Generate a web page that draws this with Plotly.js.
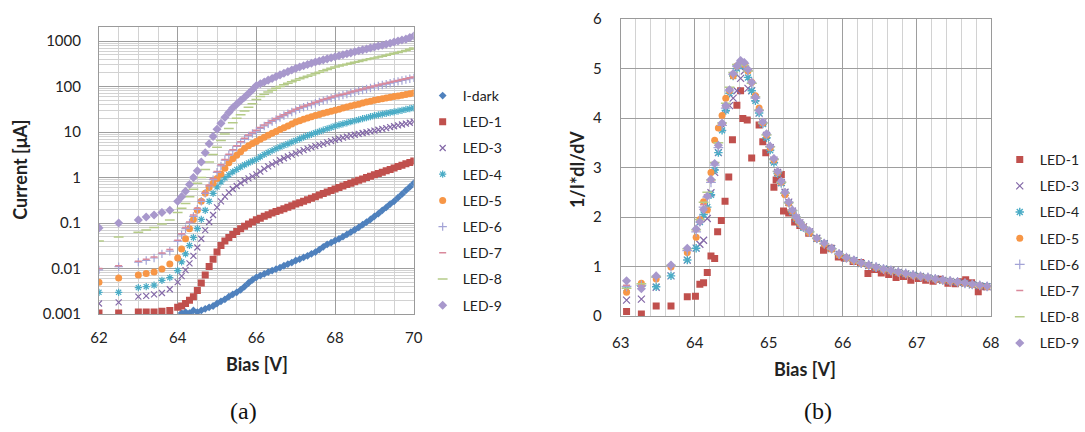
<!DOCTYPE html>
<html><head><meta charset="utf-8">
<script src="https://cdn.plot.ly/plotly-3.0.1.min.js"></script>
<style>body{margin:0;background:#fff}#c{width:1085px;height:432px}</style>
</head><body><div id="c"></div>
<script>
// ---------- (a) Current vs Bias ----------
const bias = [62,62.5,63,63.2,63.4,63.6,63.8,
64.0,64.1,64.2,64.3,64.4,64.5,64.6,64.7,64.8,64.9,
65.0,65.1,65.2,65.3,65.4,65.5,65.6,65.7,65.8,65.9,
66.0,66.1,66.2,66.3,66.4,66.5,66.6,66.7,66.8,66.9,
67.0,67.1,67.2,67.3,67.4,67.5,67.6,67.7,67.8,67.9,
68.0,68.1,68.2,68.3,68.4,68.5,68.6,68.7,68.8,68.9,
69.0,69.1,69.2,69.3,69.4,69.5,69.6,69.7,69.8,69.9,
70.0];
const iDark = [null,null,null,null,null,null,null,
null,0.00105,0.0011,0.00105,0.0012,0.0011,0.0012,0.0013,0.0014,0.0015,
0.0017,0.0019,0.0021,0.0024,0.0027,0.003,0.0034,0.004,0.0048,0.0056,
0.0064,0.007,0.0076,0.0083,0.009,0.0097,0.0105,0.0115,0.0125,0.0135,
0.015,0.016,0.0175,0.019,0.021,0.023,0.026,0.03,0.034,0.037,
0.041,0.045,0.05,0.056,0.063,0.071,0.08,0.092,0.105,0.12,
0.14,0.16,0.19,0.22,0.26,0.3,0.36,0.43,0.52,0.62,
0.75];
const led1 = [0.00105,0.00105,0.0011,0.0011,0.0011,0.00115,0.0012,
0.0014,0.0015,0.0017,0.002,0.0024,0.0033,0.0048,0.0072,0.011,0.016,
0.023,0.032,0.04,0.048,0.056,0.065,0.075,0.085,0.095,0.105,
0.118,0.128,0.14,0.152,0.165,0.178,0.19,0.205,0.222,0.24,
0.26,0.28,0.3,0.325,0.35,0.38,0.41,0.445,0.48,0.52,
0.56,0.6,0.65,0.7,0.75,0.81,0.87,0.93,1.0,1.07,
1.15,1.22,1.3,1.4,1.5,1.62,1.75,1.87,2.0,2.15,
2.3];
const led3 = [0.0017,0.0018,0.0024,0.0025,0.0027,0.0029,0.0035,
0.005,0.0068,0.0092,0.013,0.019,0.029,0.045,0.07,0.105,0.15,
0.22,0.3,0.38,0.47,0.56,0.65,0.75,0.86,0.96,1.06,
1.17,1.35,1.55,1.75,1.95,2.15,2.4,2.65,2.9,3.15,
3.4,3.7,4.0,4.3,4.6,4.9,5.2,5.5,5.9,6.3,
6.7,7.1,7.5,7.9,8.3,8.7,9.1,9.5,9.9,10.3,
10.7,11.2,11.7,12.2,12.8,13.4,14,14.6,15.3,16,
16.8];
const led4 = [0.003,0.003,0.0038,0.004,0.0043,0.0055,0.0063,
0.009,0.014,0.021,0.032,0.048,0.075,0.12,0.19,0.3,0.45,
0.62,0.8,0.98,1.15,1.33,1.5,1.7,1.9,2.1,2.3,
2.5,2.85,3.2,3.55,3.9,4.3,4.7,5.1,5.5,6.0,
6.5,7.1,7.7,8.3,8.9,9.6,10.3,11.0,11.8,12.6,
13.5,14.3,15.1,15.9,16.8,17.7,18.6,19.6,20.6,21.7,
22.8,23.8,24.8,25.8,26.8,27.8,28.8,30,31.3,32.6,
34];
const led5 = [0.005,0.0062,0.0072,0.0078,0.0084,0.0098,0.0125,
0.017,0.027,0.045,0.075,0.12,0.19,0.3,0.45,0.6,0.75,
0.95,1.2,1.6,2.1,2.6,3.1,3.7,4.4,5.0,5.6,
6.2,6.9,7.7,8.5,9.4,10.3,11.3,12.4,13.6,15,
16.5,17.7,19,20.3,21.6,23,24.4,25.8,27.2,28.6,
30,31.8,33.6,35.4,37.2,39,41,43.2,45.4,47.7,
50,52,54,56,58,60,62.2,64.5,67,69.5,
72];
const led6 = [0.0093,0.011,0.0138,0.015,0.017,0.021,0.024,
0.04,0.055,0.075,0.1,0.14,0.2,0.3,0.45,0.65,0.9,
1.3,1.8,2.4,3.1,3.9,4.8,5.8,7.0,8.2,9.3,
10.5,12,13.6,15.2,17,18.8,20.8,23,25.3,27.6,
30,32.5,35,37.5,40,43,46,49,52,55.5,
59,62,65,68,72,76,80,84,88.5,93,
98,103,108,113,118,124,130,136,142,148,
155];
const led7 = [0.01,0.0115,0.0145,0.016,0.018,0.022,0.026,
0.042,0.058,0.08,0.105,0.15,0.21,0.32,0.47,0.68,0.95,
1.35,1.9,2.5,3.25,4.1,5.0,6.1,7.3,8.6,9.8,
11,12.6,14.3,16,17.8,19.7,21.8,24,26.5,29,
31.5,34,36.7,39.4,42,45,48,51.5,54.5,58,
62,65,68,71.5,75.5,80,84,88,93,97.5,
103,108,113,118.5,124,130,136,142,148,155,
162];
const led8 = [0.04,0.049,0.063,0.07,0.08,0.095,0.117,
0.17,0.21,0.27,0.38,0.55,0.75,1.0,1.5,2.2,3.2,
4.6,6.5,9.0,12,16,20,24,29,35,42,
52,60,68,76,83,91,100,110,118,128,
138,148,158,168,180,193,207,222,238,252,
270,283,296,310,325,340,356,373,390,408,
425,445,465,487,510,535,560,590,620,660,
700];
const led9 = [0.078,0.1,0.117,0.135,0.15,0.17,0.19,
0.3,0.38,0.5,0.7,1.0,1.4,2.2,3.5,5.5,8.0,
11.5,15.5,21,27,34,41,49,58,70,85,
105,115,126,138,150,165,180,196,212,230,
250,268,287,305,325,345,365,385,405,428,
450,475,500,525,550,580,610,640,670,705,
740,775,810,850,890,950,1000,1050,1100,1190,
1290];
const yTickVals = [0.001,0.01,0.1,1,10,100,1000];
const yTickText = ["0.001","0.01","0.1","1","10","100","1000"];

// ---------- (b) 1/I*dI/dV vs Bias ----------
const biasB1 = [63.08,63.28,63.48,63.68,63.9,64.01,64.07,64.12,64.17,64.22,
64.27,64.31,64.36,64.41,64.46,64.51,64.57,64.62,64.65,64.71,
64.77,64.87,64.92,64.96,65.07,65.1,65.17,65.2,65.27,65.35,
65.42,65.54,65.74,65.84,65.94,66.02,66.14,66.24,66.34,66.43,
66.52,66.62,66.72,66.82,66.92,67.02,67.12,67.22,67.32,67.42,
67.52,67.58,67.66,67.74,67.83,67.93];
const dLed1 = [0.09,0.04,0.2,0.2,0.39,0.4,0.64,0.67,0.88,1.21,
1.16,1.7,1.93,2.32,2.81,3.56,4.26,4.55,3.99,3.96,
3.19,3.86,3.52,3.3,2.6,2.75,2.86,2.12,2.08,1.9,
1.83,1.67,1.33,1.37,1.19,1.17,1.1,1.08,0.86,0.94,
0.87,0.84,0.78,0.8,0.72,0.76,0.72,0.7,0.74,0.66,
0.65,0.69,0.73,0.67,0.49,0.59];
const biasB = [63.08,63.28,63.48,63.68,63.9,64.02,64.07,64.12,64.17,64.22,
64.27,64.32,64.37,64.42,64.47,64.52,64.57,64.62,64.67,64.72,
64.77,64.82,64.87,64.92,64.97,65.02,65.07,65.12,65.17,65.22,
65.27,65.32,65.37,65.42,65.47,65.55,65.65,65.75,65.85,65.95,
66.05,66.15,66.25,66.35,66.45,66.55,66.65,66.75,66.85,66.95,
67.05,67.15,67.25,67.35,67.45,67.55,67.65,67.75,67.85,67.95];
const dLed3 = [0.32,0.34,0.58,0.81,1.13,1.37,1.45,1.53,1.97,2.49,
2.9,3.3,3.8,4.2,4.25,4.4,4.55,4.8,4.95,4.6,
4.55,4.4,4.1,3.9,3.65,3.4,3.15,2.9,2.7,2.5,
2.3,2.12,1.98,1.88,1.8,1.7,1.57,1.46,1.36,1.25,
1.17,1.12,1.06,1.02,0.98,0.95,0.92,0.88,0.85,0.82,
0.8,0.77,0.75,0.72,0.7,0.68,0.66,0.63,0.61,0.59];
const dLed4 = [0.56,0.6,0.59,0.81,1.13,1.37,1.9,2.05,2.2,2.45,
2.95,3.3,3.75,4.15,4.5,4.85,5.0,5.1,5.05,4.82,
4.55,4.35,4.1,3.88,3.6,3.35,3.1,2.88,2.68,2.48,
2.28,2.1,1.97,1.87,1.78,1.69,1.56,1.46,1.36,1.24,
1.17,1.12,1.06,1.02,0.98,0.95,0.91,0.88,0.85,0.83,
0.8,0.77,0.75,0.72,0.7,0.68,0.66,0.63,0.61,0.6];
const dLed5 = [0.48,0.66,0.75,0.99,1.28,1.59,1.95,2.31,2.14,2.9,
3.55,3.8,4.05,4.4,4.55,4.85,5.05,5.1,5.08,4.95,
4.72,4.45,4.2,3.9,3.65,3.4,3.15,2.9,2.7,2.45,
2.28,2.12,1.98,1.88,1.8,1.68,1.56,1.45,1.35,1.23,
1.17,1.11,1.06,1.02,0.98,0.94,0.91,0.88,0.85,0.82,
0.8,0.77,0.74,0.72,0.7,0.68,0.66,0.63,0.61,0.59];
const dLed6 = [0.6,0.62,0.78,1.0,1.32,1.7,1.95,2.2,2.4,2.7,
3.05,3.4,3.85,4.2,4.55,4.88,5.05,5.12,5.1,4.95,
4.7,4.4,4.15,3.9,3.66,3.42,3.16,2.92,2.7,2.48,
2.3,2.13,2.0,1.89,1.8,1.7,1.57,1.46,1.36,1.25,
1.18,1.12,1.07,1.03,0.99,0.95,0.92,0.89,0.86,0.83,
0.8,0.78,0.75,0.73,0.71,0.69,0.66,0.64,0.62,0.6];
const dLed7 = [0.62,0.6,0.8,1.0,1.35,1.72,1.92,2.25,2.45,2.72,
3.1,3.45,3.88,4.22,4.6,4.9,5.08,5.14,5.1,4.96,
4.7,4.42,4.17,3.9,3.67,3.42,3.17,2.93,2.71,2.5,
2.3,2.14,2.0,1.9,1.8,1.71,1.57,1.47,1.37,1.26,
1.18,1.12,1.07,1.03,0.99,0.95,0.92,0.89,0.86,0.83,
0.8,0.78,0.76,0.73,0.71,0.69,0.67,0.64,0.62,0.6];
const dLed8 = [0.56,0.65,0.8,1.02,1.36,1.74,1.95,2.3,2.5,2.75,
3.1,3.5,3.9,4.3,4.62,4.92,5.08,5.1,5.06,4.95,
4.7,4.43,4.16,3.9,3.66,3.42,3.17,2.92,2.7,2.48,
2.29,2.13,1.99,1.89,1.8,1.7,1.57,1.46,1.36,1.25,
1.18,1.12,1.07,1.03,0.99,0.95,0.92,0.89,0.86,0.83,
0.8,0.78,0.75,0.73,0.71,0.69,0.67,0.64,0.62,0.6];
const dLed9 = [0.71,0.55,0.81,1.03,1.37,1.76,1.9,2.15,2.42,2.76,
3.08,3.45,3.9,4.25,4.57,4.9,5.05,5.16,5.12,4.98,
4.72,4.42,4.15,3.92,3.68,3.43,3.18,2.92,2.72,2.5,
2.3,2.14,2.0,1.9,1.8,1.72,1.57,1.47,1.37,1.26,
1.18,1.13,1.07,1.03,0.99,0.95,0.92,0.89,0.86,0.83,
0.8,0.78,0.75,0.73,0.71,0.69,0.67,0.64,0.62,0.6];

// ---------- styles ----------
const C = {dark:'#4F81BD', l1:'#C0504D', l3:'#8469A8', l4:'#4BACC6', l5:'#F79646',
           l6:'#A3A3D6', l7:'#D9899B', l8:'#B5CB88', l9:'#A898CC'};
const FONT = 'Lato, "Open Sans", sans-serif';

function tr(name, x, y, sym, color, size, lw, ax, leg){
  return {type:'scatter', mode:'markers', name:name, x:x, y:y,
    xaxis:ax[0], yaxis:ax[1], legend:leg, legendgroup:name+leg,
    marker:{symbol:sym, color:color, size:size, line:{color:color, width:lw}},
    hoverinfo:'skip'};
}
const A = ['x','y'], B = ['x2','y2'];
const data = [
  tr('I-dark', bias, iDark, 'diamond', C.dark, 6, 0, A, 'legend'),
  tr('LED-1', bias, led1, 'square', C.l1, 7, 0, A, 'legend'),
  tr('LED-3', bias, led3, 'x-thin-open', C.l3, 6, 1.2, A, 'legend'),
  tr('LED-4', bias, led4, 'asterisk-open', C.l4, 6, 1.2, A, 'legend'),
  tr('LED-5', bias, led5, 'circle', C.l5, 7, 0, A, 'legend'),
  tr('LED-6', bias, led6, 'cross-thin-open', C.l6, 6, 1.2, A, 'legend'),
  tr('LED-7', bias, led7, 'line-ew-open', C.l7, 5, 1.5, A, 'legend'),
  tr('LED-8', bias, led8, 'line-ew-open', C.l8, 7, 1.5, A, 'legend'),
  tr('LED-9', bias, led9, 'diamond', C.l9, 7, 0, A, 'legend'),

  tr('LED-1', biasB1, dLed1, 'square', C.l1, 7, 0, B, 'legend2'),
  tr('LED-3', biasB, dLed3, 'x-thin-open', C.l3, 7, 1.2, B, 'legend2'),
  tr('LED-4', biasB, dLed4, 'asterisk-open', C.l4, 7, 1.4, B, 'legend2'),
  tr('LED-5', biasB, dLed5, 'circle', C.l5, 7, 0, B, 'legend2'),
  tr('LED-6', biasB, dLed6, 'cross-thin-open', C.l6, 7, 1.2, B, 'legend2'),
  tr('LED-7', biasB, dLed7, 'line-ew-open', C.l7, 5, 1.5, B, 'legend2'),
  tr('LED-8', biasB, dLed8, 'line-ew-open', C.l8, 7, 1.5, B, 'legend2'),
  tr('LED-9', biasB, dLed9, 'diamond', C.l9, 7, 0, B, 'legend2')
];

const W = 1085, H = 432;
const px = v => v / W, py = v => (H - v) / H;
const tickF = {family:FONT, size:15, color:'#222'};
const gridMaj = '#9e9e9e', gridMin = '#d2d2d2';
const ann = (text, x, y, angle, font) => ({text:text, x:px(x), y:py(y), xref:'paper', yref:'paper',
  xanchor:'center', yanchor:'middle', textangle:angle, showarrow:false, font:font});
const titleF = {family:FONT, size:18, color:'#222'};
const capF = {family:'"Liberation Serif", "DejaVu Serif", serif', size:24, color:'#111'};

const layout = {
  width:W, height:H, margin:{l:0,r:0,t:0,b:0},
  paper_bgcolor:'#fff', plot_bgcolor:'#fff', font:{family:FONT, color:'#222'},
  xaxis:{domain:[px(100), px(418)], range:[62,70], dtick:2, tick0:62,
    showgrid:true, gridcolor:gridMaj, gridwidth:1, zeroline:false,
    showline:true, linecolor:'#9a9a9a', mirror:true, ticks:'', tickfont:tickF, ticklabelstandoff:10,
    minor:{dtick:0.5, showgrid:true, gridcolor:gridMin, ticks:''}, anchor:'y'},
  yaxis:{domain:[py(314), py(27)], type:'log', range:[-3, 3.308],
    tickmode:'array', tickvals:yTickVals, ticktext:yTickText,
    showgrid:true, gridcolor:gridMaj, zeroline:false,
    showline:true, linecolor:'#9a9a9a', mirror:true, ticks:'', tickfont:tickF, ticklabelstandoff:14,
    minor:{dtick:'D1', showgrid:true, gridcolor:gridMin, ticks:''}, anchor:'x'},
  xaxis2:{domain:[px(627), px(1001)], range:[63,68], dtick:1, tick0:63,
    showgrid:true, gridcolor:gridMaj, zeroline:false,
    showline:true, linecolor:'#9a9a9a', mirror:true, ticks:'', tickfont:tickF, ticklabelstandoff:13,
    minor:{dtick:0.2, showgrid:true, gridcolor:gridMin, ticks:''}, anchor:'y2'},
  yaxis2:{domain:[py(316), py(19)], range:[0,6], dtick:1,
    showgrid:true, gridcolor:gridMaj, zeroline:false,
    showline:true, linecolor:'#9a9a9a', mirror:true, ticks:'', tickfont:tickF, ticklabelstandoff:15, anchor:'x2'},
  legend:{x:px(427), y:py(80), xanchor:'left', yanchor:'top', bgcolor:'rgba(0,0,0,0)',
    font:{family:FONT, size:14, color:'#222'}, tracegroupgap:5, itemwidth:30},
  legend2:{x:px(1010), y:py(144), xanchor:'left', yanchor:'top', bgcolor:'rgba(0,0,0,0)',
    font:{family:FONT, size:14, color:'#222'}, tracegroupgap:5, itemwidth:30},
  annotations:[
    ann('<b>Current [μA]</b>', 20, 170, -90, titleF),
    ann('<b>Bias [V]</b>', 260, 364, 0, titleF),
    ann('<b>1/I*dI/dV</b>', 583, 170, -90, titleF),
    ann('<b>Bias [V]</b>', 813, 369, 0, titleF),
    ann('(a)', 246, 411, 0, capF),
    ann('(b)', 826, 411, 0, capF)
  ]
};
Plotly.newPlot('c', data, layout, {staticPlot:true, displayModeBar:false});
</script></body></html>
